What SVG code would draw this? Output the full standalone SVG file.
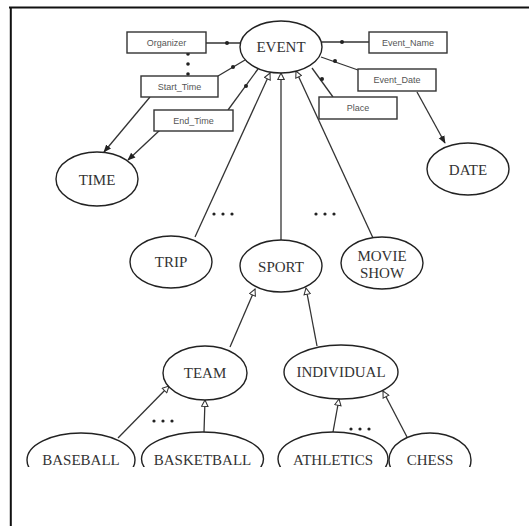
<svg xmlns="http://www.w3.org/2000/svg" width="529" height="526" viewBox="0 0 529 526">
<style>
.ent{fill:#fff;stroke:#222;stroke-width:1.4}
.box{fill:#fff;stroke:#333;stroke-width:1.4}
.lbl{font-family:"Liberation Serif","Times New Roman",serif;font-size:15px;fill:#333;text-anchor:middle;dominant-baseline:central}
.att{font-family:"Liberation Sans",Arial,sans-serif;font-size:9px;fill:#555;text-anchor:middle;dominant-baseline:central}
.ln{fill:none;stroke:#333;stroke-width:1.3}
.isa{marker-end:url(#tri)}
.ref{marker-end:url(#arr)}
.dot{fill:#222}
.ell{font-family:"Liberation Serif",serif;font-size:15px;fill:#333;text-anchor:middle;font-weight:bold}
</style>
<defs>
<marker id="tri" viewBox="0 0 10 10" refX="9" refY="5" markerWidth="8" markerHeight="8" markerUnits="userSpaceOnUse" orient="auto">
<path d="M1,1 L9,5 L1,9 z" fill="#fff" stroke="#333" stroke-width="1.3"/>
</marker>
<marker id="arr" viewBox="0 0 10 10" refX="9" refY="5" markerWidth="8" markerHeight="8" markerUnits="userSpaceOnUse" orient="auto">
<path d="M0,1 L10,5 L0,9 z" fill="#222"/>
</marker>
<clipPath id="cut"><rect x="0" y="0" width="529" height="467"/></clipPath>
</defs>
<rect x="0" y="0" width="529" height="526" fill="#fff"/>
<path d="M9,7.5 H529 M10.8,7 V526" stroke="#111" stroke-width="2" fill="none"/>

<g id="connectors">
<path class="ln" d="M206,43 H240"/><circle class="dot" cx="227" cy="43" r="2"/>
<path class="ln" d="M218,76 L245,60"/><circle class="dot" cx="233" cy="67" r="2"/>
<path class="ln" d="M228,110 L258,69"/><circle class="dot" cx="246" cy="86" r="2"/>
<path class="ln" d="M369,42 H322"/><circle class="dot" cx="342" cy="42" r="2"/>
<path class="ln" d="M358,70 L321,57"/><circle class="dot" cx="335" cy="61" r="2"/>
<path class="ln" d="M333,97 L312,68"/><circle class="dot" cx="322" cy="79" r="2"/>
<circle class="dot" cx="188" cy="54" r="1.8"/><circle class="dot" cx="188" cy="64" r="1.8"/><circle class="dot" cx="188" cy="74" r="1.8"/>
<path class="ln ref" d="M150,97 L104,152"/>
<path class="ln ref" d="M160,130 L128,160"/>
<path class="ln ref" d="M417,92 L445,143"/>
<path class="ln isa" d="M195,237 L270,73"/>
<path class="ln isa" d="M281,240 V73"/>
<path class="ln isa" d="M373,238 L296,71"/>
<path class="ln isa" d="M230,347 L255,289"/>
<path class="ln isa" d="M317,346 L306,288"/>
<path class="ln isa" d="M118,438 L169,386"/>
<path class="ln isa" d="M204,432 L205,400"/>
<path class="ln isa" d="M333,432 L339,399"/>
<path class="ln isa" d="M407,437 L383,391"/>
<g class="dot">
<circle cx="214" cy="214" r="1.6"/><circle cx="223" cy="214" r="1.6"/><circle cx="232" cy="214" r="1.6"/>
<circle cx="316" cy="214" r="1.6"/><circle cx="325" cy="214" r="1.6"/><circle cx="334" cy="214" r="1.6"/>
<circle cx="154" cy="421" r="1.6"/><circle cx="163" cy="421" r="1.6"/><circle cx="172" cy="421" r="1.6"/>
<circle cx="351" cy="429" r="1.6"/><circle cx="360" cy="429" r="1.6"/><circle cx="369" cy="429" r="1.6"/>
</g>
</g>

<g id="event"><ellipse class="ent" cx="281" cy="47" rx="41" ry="26"/><text class="lbl" x="281" y="47">EVENT</text></g>
<g id="organizer"><rect class="box" x="127" y="32" width="79" height="21"/><text class="att" x="166.5" y="42.5">Organizer</text></g>
<g id="start_time"><rect class="box" x="141" y="76" width="77" height="21"/><text class="att" x="179.5" y="86.5">Start_Time</text></g>
<g id="end_time"><rect class="box" x="154" y="110" width="79" height="21"/><text class="att" x="193.5" y="120.5">End_Time</text></g>
<g id="event_name"><rect class="box" x="369" y="32" width="78" height="21"/><text class="att" x="408" y="42.5">Event_Name</text></g>
<g id="event_date"><rect class="box" x="358" y="69" width="78" height="22"/><text class="att" x="397" y="80">Event_Date</text></g>
<g id="place"><rect class="box" x="319" y="97" width="78" height="22"/><text class="att" x="358" y="108">Place</text></g>
<g id="time"><ellipse class="ent" cx="97" cy="179" rx="41" ry="27"/><text class="lbl" x="97" y="180">TIME</text></g>
<g id="date"><ellipse class="ent" cx="468" cy="169" rx="41" ry="26"/><text class="lbl" x="468" y="170">DATE</text></g>
<g id="trip"><ellipse class="ent" cx="171" cy="262" rx="41" ry="26"/><text class="lbl" x="171" y="262">TRIP</text></g>
<g id="sport"><ellipse class="ent" cx="281" cy="266" rx="41" ry="26"/><text class="lbl" x="281" y="267">SPORT</text></g>
<g id="movie_show"><ellipse class="ent" cx="382" cy="263" rx="41" ry="26"/><text class="lbl" x="382" y="256">MOVIE</text><text class="lbl" x="382" y="273">SHOW</text></g>
<g id="team"><ellipse class="ent" cx="205" cy="373" rx="42" ry="27"/><text class="lbl" x="205" y="373">TEAM</text></g>
<g id="individual"><ellipse class="ent" cx="341" cy="372" rx="57" ry="27"/><text class="lbl" x="341" y="372">INDIVIDUAL</text></g>
<g clip-path="url(#cut)">
<g id="baseball"><ellipse class="ent" cx="81" cy="460" rx="54" ry="27"/><text class="lbl" x="81" y="460">BASEBALL</text></g>
<g id="basketball"><ellipse class="ent" cx="202.5" cy="459" rx="61" ry="27"/><text class="lbl" x="202.5" y="460">BASKETBALL</text></g>
<g id="athletics"><ellipse class="ent" cx="333" cy="459" rx="55" ry="27"/><text class="lbl" x="333" y="460">ATHLETICS</text></g>
<g id="chess"><ellipse class="ent" cx="430" cy="460" rx="41" ry="27"/><text class="lbl" x="430" y="460">CHESS</text></g>
</g>
</svg>
